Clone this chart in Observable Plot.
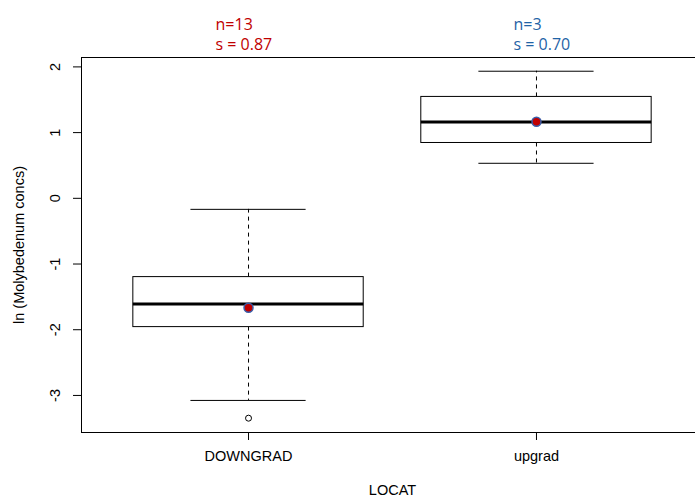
<!DOCTYPE html>
<html><head><meta charset="utf-8">
<script src="https://cdn.jsdelivr.net/npm/d3@7"></script>
<script src="https://cdn.jsdelivr.net/npm/@observablehq/plot@0.6"></script>
<style>
html,body{margin:0;padding:0;background:#fff;overflow:hidden}
#chart svg{overflow:hidden;display:block}
</style>
</head><body><div id="chart"></div>
<script>
// ---- data ----
const categories = ["DOWNGRAD", "upgrad"];
const whiskerLow = [-3.076, 0.533];
const q1 = [-1.960, 0.842];
const median = [-1.610, 1.162];
const q3 = [-1.199, 1.543];
const whiskerHigh = [-0.168, 1.934];
const means = [-1.665, 1.165];
const outlierGroups = ["DOWNGRAD"];
const outlierValues = [-3.346];
const countLabels = ["n=13", "n=3"];
const sdLabels = ["s = 0.87", "s = 0.70"];
const yTicks = [-3, -2, -1, 0, 1, 2];
const annotationColors = ["#C00000", "#1F63A6"];
const yTitle = "ln (Molybedenum concs)";
const xTitle = "LOCAT";

// ---- derived tables ----
const groups = categories.map((c, i) => ({
  c, pos: i + 1, lo: whiskerLow[i], q1: q1[i], med: median[i], q3: q3[i],
  hi: whiskerHigh[i], mean: means[i], label: countLabels[i] + "\n" + sdLabels[i], color: annotationColors[i]
}));
const outliers = outlierGroups.map((g, i) => ({pos: categories.indexOf(g) + 1, value: outlierValues[i]}));

const boxHalf = 0.4, capHalf = 0.2;
const xDomain = [0.42, 2.58];
const yDomain = [-3.564, 2.143];
const font = "'Liberation Sans', Arial, sans-serif";
const annFont = "'Open Sans', sans-serif";
const axisSize = 14.5;

const plot = Plot.plot({
  width: 695, height: 502,
  marginLeft: 81, marginTop: 57, marginBottom: 70, marginRight: 0,
  x: {type: "linear", domain: xDomain, range: [81, 703]},
  y: {domain: yDomain},
  style: {fontFamily: font, fontSize: axisSize + "px", background: "white", color: "black", overflow: "hidden"},
  marks: [
    // whiskers
    Plot.ruleX(groups, {x: "pos", y1: "q3", y2: "hi", stroke: "black", strokeDasharray: "4,4"}),
    Plot.ruleX(groups, {x: "pos", y1: "q1", y2: "lo", stroke: "black", strokeDasharray: "4,4"}),
    Plot.ruleY(groups, {y: "hi", x1: d => d.pos - capHalf, x2: d => d.pos + capHalf, stroke: "black"}),
    Plot.ruleY(groups, {y: "lo", x1: d => d.pos - capHalf, x2: d => d.pos + capHalf, stroke: "black"}),
    // boxes
    Plot.rect(groups, {x1: d => d.pos - boxHalf, x2: d => d.pos + boxHalf, y1: "q1", y2: "q3", fill: "white", stroke: "black"}),
    Plot.ruleY(groups, {y: "med", x1: d => d.pos - boxHalf, x2: d => d.pos + boxHalf, stroke: "black", strokeWidth: 3}),
    // outliers
    Plot.dot(outliers, {x: "pos", y: "value", r: 3, stroke: "black", strokeWidth: 1}),
    // means
    Plot.dot(groups, {x: "pos", y: "mean", r: 4.5, fill: "#C00000", stroke: "#3A5DA8", strokeWidth: 1.5}),
    // frame (left, top, bottom)
    Plot.ruleX([xDomain[0]], {stroke: "black"}),
    Plot.ruleY(yDomain, {stroke: "black"}),
    // y axis
    Plot.axisY({ticks: yTicks, tickSize: 8, tickFormat: () => "", label: null}),
    Plot.text(yTicks, {y: d => d, text: d => String(d), frameAnchor: "left", textAnchor: "middle", dx: -26, rotate: -90, fontSize: axisSize}),
    Plot.text([yTitle], {frameAnchor: "left", textAnchor: "middle", dx: -62, rotate: -90, fontSize: axisSize}),
    // x axis
    Plot.axisX({ticks: [1, 2], tickSize: 8, tickPadding: 10, tickFormat: d => categories[d - 1], label: null, fontSize: axisSize}),
    Plot.text([xTitle], {frameAnchor: "bottom", dx: 4, dy: 62.5, fontSize: axisSize}),
    // annotations
    Plot.text([groups[0]], {x: "pos", text: "label", fill: "color", frameAnchor: "top", dy: -41.7, dx: -33,
      textAnchor: "start", lineAnchor: "top", lineHeight: 1.25, fontSize: 16, fontFamily: annFont}),
    Plot.text([groups[1]], {x: "pos", text: "label", fill: "color", frameAnchor: "top", dy: -41.7, dx: -23,
      textAnchor: "start", lineAnchor: "top", lineHeight: 1.25, fontSize: 16, fontFamily: annFont})
  ]
});
document.getElementById("chart").appendChild(plot);
</script>
</body></html>
